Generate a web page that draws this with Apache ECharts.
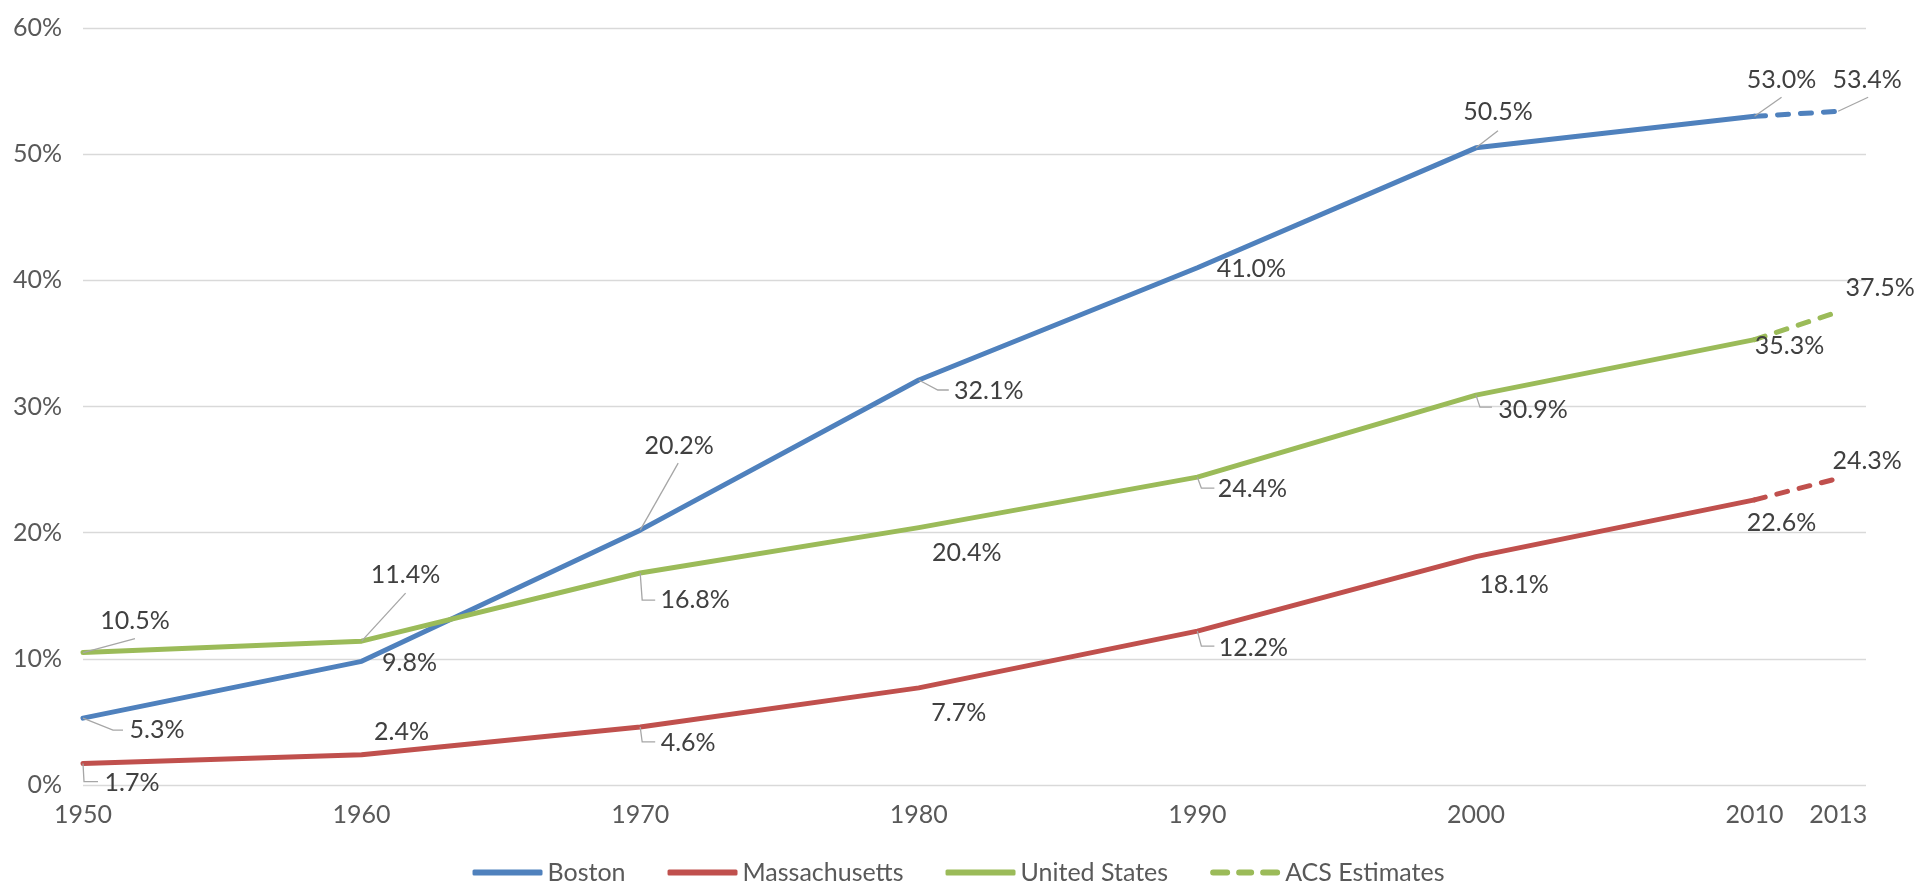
<!DOCTYPE html>
<html>
<head>
<meta charset="UTF-8">
<title>Share of adults with a bachelor's degree</title>
<script src="https://cdn.jsdelivr.net/npm/echarts@6/dist/echarts.min.js"></script>
<style type="text/css">
body  { margin: 0; padding: 0; background: #fff; }
#chart { width: 1917px; height: 881px; }
</style>
</head>
<body>
<div id="chart"></div>
<script type="text/javascript">
// census years (solid) and ACS years (dashed)
var years = [1950, 1960, 1970, 1980, 1990, 2000, 2010];
var acsYears = [2010, 2013];
var tickYears = [1950, 1960, 1970, 1980, 1990, 2000, 2010, 2013];

var boston = [5.3, 9.8, 20.2, 32.1, 41.0, 50.5, 53.0];
var bostonAcs = [53.0, 53.4];
var massachusetts = [1.7, 2.4, 4.6, 7.7, 12.2, 18.1, 22.6];
var massachusettsAcs = [22.6, 24.3];
var unitedStates = [10.5, 11.4, 16.8, 20.4, 24.4, 30.9, 35.3];
var unitedStatesAcs = [35.3, 37.5];

var FONT = 'Lato, "Open Sans", sans-serif';
var FS = 25;
var BLUE = '#4f81bd', RED = '#c0504d', GREEN = '#9bbb59';

// where each data label sits, relative to its point (px), and its leader line if any
var labelPlace = {
    boston: [
        {dx: 74, dy: 12, leader: [[0, 0], [30, 12], [40, 12]]},
        {dx: 48, dy: 2},
        {dx: 39, dy: -84, leader: [[0, 0], [38, -67]]},
        {dx: 70, dy: 11, leader: [[0, 0], [19, 10], [30, 10]]},
        {dx: 54, dy: 1},
        {dx: 22, dy: -36, leader: [[0, 0], [22, -17]]},
        {dx: 27, dy: -36, leader: [[0, 0], [27, -19]]},
        {dx: 29, dy: -31, leader: [[0, 0], [30, -14]]}   // 2013
    ],
    massachusetts: [
        {dx: 49, dy: 19, leader: [[0, 0], [1, 18], [15, 18]]},
        {dx: 40, dy: -23},
        {dx: 48, dy: 16, leader: [[0, 0], [2, 15], [15, 15]]},
        {dx: 40, dy: 25},
        {dx: 56, dy: 17, leader: [[0, 0], [4, 15], [17, 15]]},
        {dx: 38, dy: 28},
        {dx: 27, dy: 23},
        {dx: 29, dy: -17}
    ],
    unitedStates: [
        {dx: 52, dy: -32, leader: [[0, 0], [52, -14]]},
        {dx: 44, dy: -66, leader: [[0, 0], [44, -48]]},
        {dx: 55, dy: 27, leader: [[0, 0], [2, 27], [15, 27]]},
        {dx: 48, dy: 25},
        {dx: 55, dy: 12, leader: [[0, 0], [4, 11], [17, 11]]},
        {dx: 57, dy: 15, leader: [[0, 0], [4, 12], [16, 12]]},
        {dx: 35, dy: 6},
        {dx: 42, dy: -24}
    ]
};

function pairs(xs, ys) {
    var out = [];
    for (var i = 0; i < xs.length; i++) out.push([xs[i], ys[i]]);
    return out;
}

// one label point per census year plus the 2013 estimate
var labelData = [];
var labelInfo = [];
function addLabels(key, vals, acsVals) {
    var xs = years.concat([acsYears[1]]);
    var ys = vals.concat([acsVals[1]]);
    for (var i = 0; i < xs.length; i++) {
        labelData.push([xs[i], ys[i]]);
        labelInfo.push(labelPlace[key][i]);
    }
}
addLabels('boston', boston, bostonAcs);
addLabels('massachusetts', massachusetts, massachusettsAcs);
addLabels('unitedStates', unitedStates, unitedStatesAcs);

function solid(name, color, vals) {
    return {
        name: name, type: 'line', data: pairs(years, vals),
        symbol: 'none', color: color, z: 3,
        lineStyle: {width: 5, color: color, cap: 'round', join: 'round'}
    };
}
function dashed(name, color, vals) {
    return {
        name: name, type: 'line', data: pairs(acsYears, vals),
        symbol: 'none', color: color, z: 3,
        lineStyle: {width: 5, color: color, type: [11, 12], cap: 'round'}
    };
}

var chart = echarts.init(document.getElementById('chart'));
chart.setOption({
    animation: false,
    grid: {left: 83, right: 51, top: 28, bottom: 96},
    xAxis: {
        type: 'value', min: 1950, max: 2014,
        axisLine: {show: false},
        axisTick: {show: false},
        splitLine: {show: false},
        axisLabel: {
            customValues: tickYears,
            fontSize: FS, fontFamily: FONT, color: '#595959', margin: 17,
            formatter: function (v) { return String(v); }
        }
    },
    yAxis: {
        type: 'value', min: 0, max: 60, interval: 10,
        axisLine: {show: false},
        axisTick: {show: false},
        splitLine: {lineStyle: {color: '#d9d9d9', width: 1.3}},
        axisLabel: {
            fontSize: FS, fontFamily: FONT, color: '#595959', margin: 21,
            formatter: '{value}%'
        }
    },
    legend: {
        data: [
            {name: 'Boston', icon: 'roundRect'},
            {name: 'Massachusetts', icon: 'roundRect'},
            {name: 'United States', icon: 'roundRect'},
            {name: 'ACS Estimates', icon: 'path://M3,0h14a3,3 0 0 1 0,6h-14a3,3 0 0 1 0,-6z M29,0h12a3,3 0 0 1 0,6h-12a3,3 0 0 1 0,-6z M53,0h14a3,3 0 0 1 0,6h-14a3,3 0 0 1 0,-6z'}
        ],
        left: 'center', top: 855,
        itemWidth: 70, itemHeight: 6, itemGap: 42,
        textStyle: {fontSize: FS, fontFamily: FONT, color: '#595959'}
    },
    series: [
        solid('Boston', BLUE, boston),
        solid('Massachusetts', RED, massachusetts),
        solid('United States', GREEN, unitedStates),
        dashed('ACS Estimates', GREEN, unitedStatesAcs),
        dashed('Boston ACS', BLUE, bostonAcs),
        dashed('Massachusetts ACS', RED, massachusettsAcs),
        {
            // data labels with excel-like leader lines
            name: 'labels', type: 'custom', z: 5, silent: true, clip: false,
            data: labelData,
            renderItem: function (params, api) {
                var v = api.value(1);
                var p = api.coord([api.value(0), v]);
                var lay = labelInfo[params.dataIndex];
                var kids = [];
                if (lay.leader) {
                    kids.push({
                        type: 'polyline',
                        shape: {points: lay.leader.map(function (d) { return [p[0] + d[0], p[1] + d[1]]; })},
                        style: {stroke: '#a6a6a6', lineWidth: 1.3, fill: null}
                    });
                }
                kids.push({
                    type: 'text',
                    x: p[0] + lay.dx, y: p[1] + lay.dy,
                    style: {
                        text: v.toFixed(1) + '%',
                        align: 'center', verticalAlign: 'middle',
                        fontSize: FS, fontFamily: FONT, fill: '#404040'
                    }
                });
                return {type: 'group', children: kids};
            }
        }
    ]
});
</script>
</body>
</html>
